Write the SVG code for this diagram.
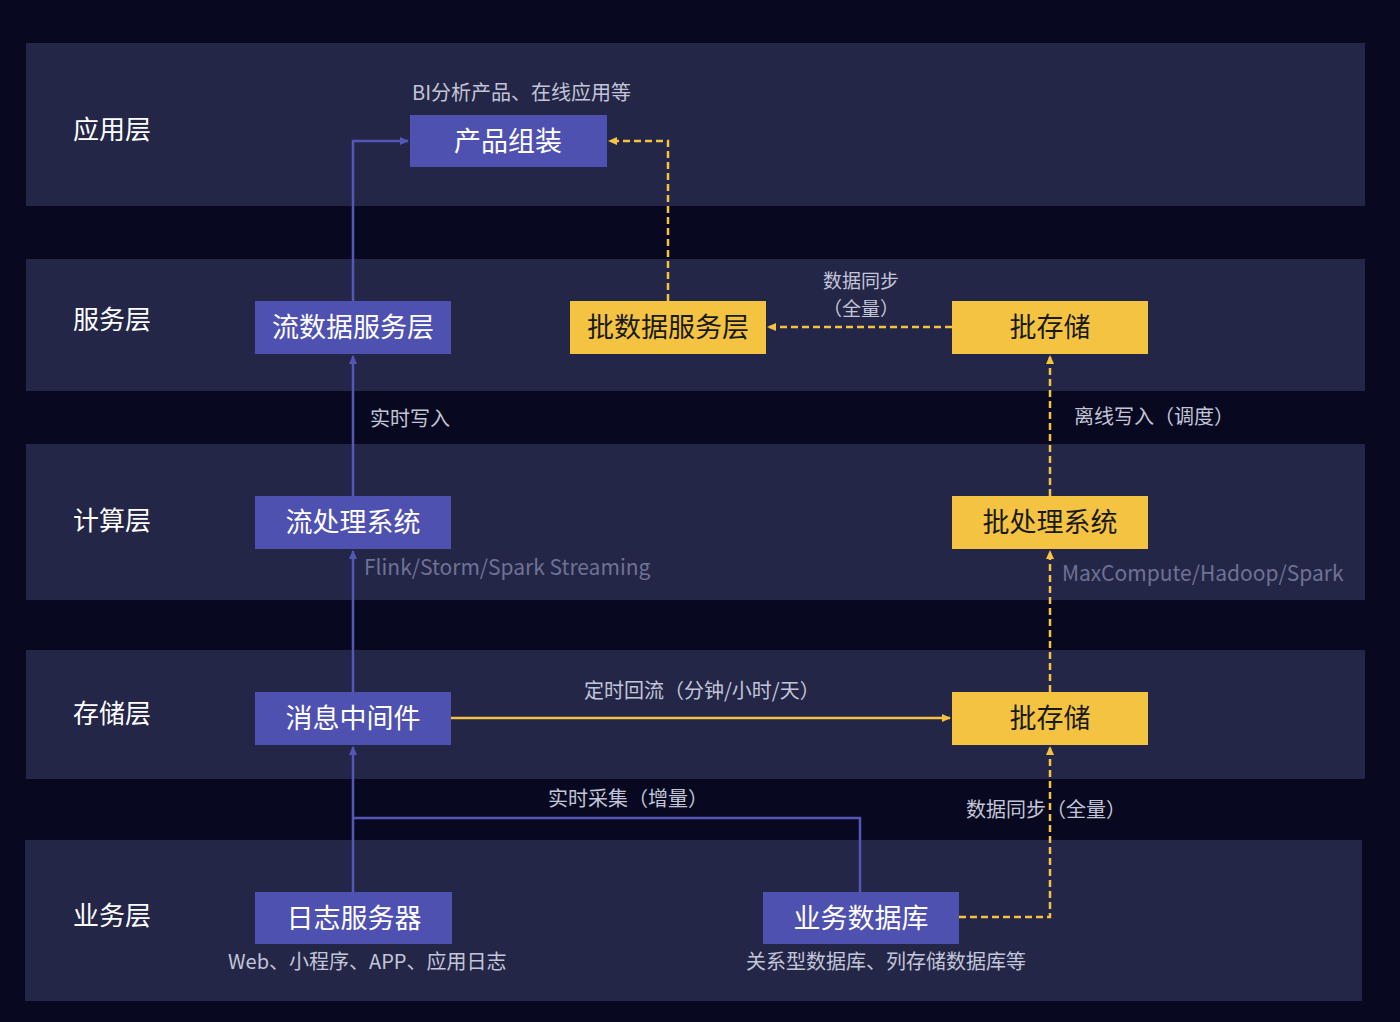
<svg xmlns="http://www.w3.org/2000/svg" width="1400" height="1022" viewBox="0 0 1400 1022">
<defs>
<style>
text{font-family:"Noto Sans CJK SC","Noto Sans",sans-serif}
.band{fill:#232647}
.layer{fill:#ffffff;font-size:26px}
.np{fill:#4f51b0}
.ny{fill:#f5c342}
.tp{fill:#ffffff;font-size:27px;text-anchor:middle;dominant-baseline:central}
.ty{fill:#1a1a1a;font-size:27px;text-anchor:middle;dominant-baseline:central}
.lbl{fill:#c3c5d8;font-size:20px}
.dim{fill:#707294;font-size:21px}
.cp{fill:none;stroke:#5557b8;stroke-width:2.5}
.cy{fill:none;stroke:#f5c342;stroke-width:2.5}
.cd{fill:none;stroke:#f5c342;stroke-width:2.5;stroke-dasharray:7 4}
</style>
<marker id="ap" markerWidth="10" markerHeight="10" refX="8" refY="5" orient="auto" markerUnits="userSpaceOnUse"><path d="M0,1 L9,5 L0,9 z" fill="#5557b8"/></marker>
<marker id="ay" markerWidth="10" markerHeight="10" refX="8" refY="5" orient="auto" markerUnits="userSpaceOnUse"><path d="M0,1 L9,5 L0,9 z" fill="#f5c342"/></marker>
</defs>
<rect width="1400" height="1022" fill="#080920"/>
<g id="bands">
<rect class="band" x="26" y="43" width="1339" height="163"/>
<rect class="band" x="26" y="259" width="1339" height="132"/>
<rect class="band" x="26" y="444" width="1339" height="156"/>
<rect class="band" x="26" y="650" width="1339" height="129"/>
<rect class="band" x="25" y="840" width="1337" height="161"/>
</g>
<g id="layers">
<text class="layer" x="73" y="139">应用层</text>
<text class="layer" x="73" y="329">服务层</text>
<text class="layer" x="73" y="530">计算层</text>
<text class="layer" x="73" y="723">存储层</text>
<text class="layer" x="73" y="925">业务层</text>
</g>
<g id="connectors">
<path class="cp" d="M353,301 V141 H408" marker-end="url(#ap)"/>
<path class="cp" d="M353,496 V356" marker-end="url(#ap)"/>
<path class="cp" d="M353,692 V551" marker-end="url(#ap)"/>
<path class="cp" d="M353,892 V747" marker-end="url(#ap)"/>
<path class="cp" d="M860,892 V818 H353"/>
<path class="cy" d="M451,718 H950" marker-end="url(#ay)"/>
<path class="cd" d="M959,917 H1050 V747" marker-end="url(#ay)"/>
<path class="cd" d="M1050,692 V551" marker-end="url(#ay)"/>
<path class="cd" d="M1050,496 V356" marker-end="url(#ay)"/>
<path class="cd" d="M952,327 H768" marker-end="url(#ay)"/>
<path class="cd" d="M668,301 V141 H609" marker-end="url(#ay)"/>
</g>
<g id="labels">
<text class="lbl" x="412" y="100">BI分析产品、在线应用等</text>
<text class="lbl" x="370" y="426">实时写入</text>
<text class="lbl" x="861" y="288" text-anchor="middle" style="font-size:19px">数据同步</text>
<text class="lbl" x="861" y="316" text-anchor="middle" style="font-size:19px">（全量）</text>
<text class="lbl" x="1074" y="424">离线写入（调度）</text>
<text class="dim" x="364" y="575">Flink/Storm/Spark Streaming</text>
<text class="dim" x="1062" y="581">MaxCompute/Hadoop/Spark</text>
<text class="lbl" x="584" y="698">定时回流（分钟/小时/天）</text>
<text class="lbl" x="548" y="806">实时采集（增量）</text>
<text class="lbl" x="966" y="817">数据同步（全量）</text>
<text class="lbl" x="228" y="969">Web、小程序、APP、应用日志</text>
<text class="lbl" x="746" y="969">关系型数据库、列存储数据库等</text>
</g>
<g id="n-product"><rect class="np" x="410" y="115" width="197" height="52"/><text class="tp" x="508" y="139">产品组装</text></g>
<g id="n-stream-serve"><rect class="np" x="255" y="301" width="196" height="53"/><text class="tp" x="353" y="325">流数据服务层</text></g>
<g id="n-batch-serve"><rect class="ny" x="570" y="301" width="196" height="53"/><text class="ty" x="668" y="325">批数据服务层</text></g>
<g id="n-batch-store-top"><rect class="ny" x="952" y="301" width="196" height="53"/><text class="ty" x="1050" y="325">批存储</text></g>
<g id="n-stream-proc"><rect class="np" x="255" y="496" width="196" height="53"/><text class="tp" x="353" y="520">流处理系统</text></g>
<g id="n-batch-proc"><rect class="ny" x="952" y="496" width="196" height="53"/><text class="ty" x="1050" y="520">批处理系统</text></g>
<g id="n-mq"><rect class="np" x="255" y="692" width="196" height="53"/><text class="tp" x="353" y="716">消息中间件</text></g>
<g id="n-batch-store"><rect class="ny" x="952" y="692" width="196" height="53"/><text class="ty" x="1050" y="716">批存储</text></g>
<g id="n-log"><rect class="np" x="255" y="892" width="197" height="52"/><text class="tp" x="354" y="916">日志服务器</text></g>
<g id="n-db"><rect class="np" x="763" y="892" width="196" height="52"/><text class="tp" x="861" y="916">业务数据库</text></g>
</svg>
